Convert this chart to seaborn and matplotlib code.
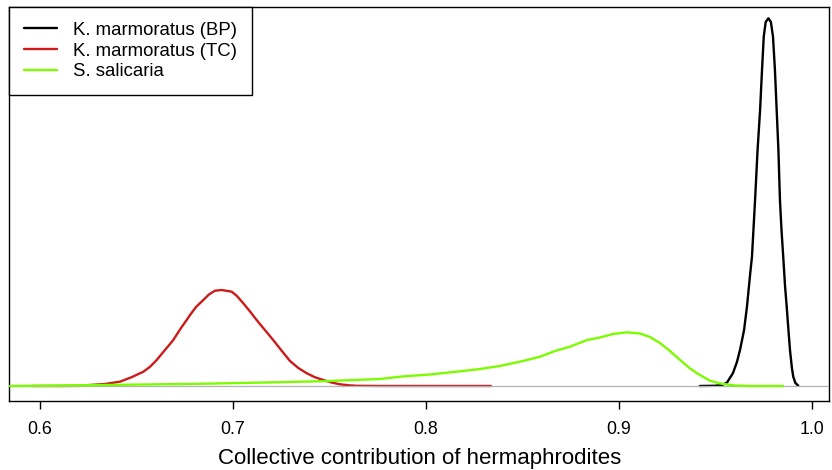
import matplotlib
matplotlib.use("Agg")
import matplotlib.pyplot as plt
import seaborn as sns
import pandas as pd

sns.set_theme(style="white")
plt.rcParams['font.family'] = ['Liberation Sans', 'DejaVu Sans']
plt.rcParams['text.color'] = 'black'
plt.rcParams['axes.labelcolor'] = 'black'
plt.rcParams['xtick.color'] = 'black'
plt.rcParams['lines.solid_joinstyle'] = 'round'

# Density curves (x = collective contribution, y = density)
bp_x = [0.9421, 0.9499, 0.9535, 0.9561, 0.9592, 0.9613, 0.9629, 0.9650, 0.9665, 0.9681,
        0.9691, 0.9707, 0.9720, 0.9733, 0.9743, 0.9752, 0.9762, 0.9776, 0.9789, 0.9800,
        0.9810, 0.9819, 0.9828, 0.9836, 0.9844, 0.9853, 0.9862, 0.9871, 0.9880, 0.9888,
        0.9898, 0.9905, 0.9916, 0.9931]
bp_y = [0.00, 0.04, 0.20, 0.67, 2.59, 4.89, 7.34, 11.41, 16.16, 22.62,
        26.35, 37.91, 48.10, 56.25, 64.40, 71.19, 74.18, 74.94, 74.18, 71.19,
        64.40, 56.25, 48.10, 37.91, 31.79, 26.35, 20.58, 16.16, 11.41, 7.34,
        3.67, 1.90, 0.61, 0.06]

tc_x = [0.5960, 0.6104, 0.6207, 0.6259, 0.6337, 0.6415, 0.6477, 0.6536, 0.6570, 0.6605,
        0.6648, 0.6691, 0.6731, 0.6757, 0.6778, 0.6809, 0.6847, 0.6876, 0.6907, 0.6942,
        0.6994, 0.7021, 0.7054, 0.7089, 0.7123, 0.7166, 0.7209, 0.7254, 0.7296, 0.7338,
        0.7383, 0.7426, 0.7469, 0.7512, 0.7555, 0.7600, 0.7642, 0.7763, 0.8338]
tc_y = [0.00, 0.00, 0.02, 0.20, 0.41, 0.88, 1.83, 2.91, 3.90, 5.30,
        7.34, 9.37, 11.82, 13.25, 14.47, 16.10, 17.53, 18.65, 19.42, 19.56,
        19.22, 18.34, 16.85, 15.18, 13.45, 11.41, 9.37, 7.13, 5.10, 3.70,
        2.59, 1.77, 1.22, 0.70, 0.35, 0.14, 0.04, 0.00, 0.00]

ss_x = [0.5845, 0.6104, 0.6415, 0.6829, 0.7244, 0.7503, 0.7763, 0.7879, 0.8022, 0.8193,
        0.8281, 0.8384, 0.8504, 0.8592, 0.8670, 0.8747, 0.8836, 0.8903, 0.8970, 0.9043,
        0.9110, 0.9162, 0.9214, 0.9266, 0.9318, 0.9370, 0.9406, 0.9473, 0.9525, 0.9603,
        0.9681, 0.9852]
ss_y = [0.00, 0.10, 0.24, 0.45, 0.77, 1.02, 1.43, 1.94, 2.34, 3.06,
        3.46, 4.08, 5.10, 5.97, 7.13, 8.01, 9.37, 9.88, 10.60, 10.94,
        10.70, 9.99, 8.76, 7.13, 5.30, 3.57, 2.59, 1.08, 0.51, 0.10,
        0.00, 0.00]

labels = ["K. marmoratus (BP)", "K. marmoratus (TC)", "S. salicaria"]
colors = ["black", "#CD1A1A", "#7CFC00"]
xticks = [0.6, 0.7, 0.8, 0.9, 1.0]
xtick_labels = ["0.6", "0.7", "0.8", "0.9", "1.0"]
xlabel = "Collective contribution of hermaphrodites"

df_bp = pd.DataFrame({"x": bp_x, "y": bp_y})
df_tc = pd.DataFrame({"x": tc_x, "y": tc_y})
df_ss = pd.DataFrame({"x": ss_x, "y": ss_y})

fig = plt.figure(figsize=(8.32, 4.70), dpi=100)
ax = fig.add_axes([0.0114, 0.1468, 0.9850, 0.8383])

lw = 1.7
sns.lineplot(data=df_tc, x="x", y="y", sort=False, estimator=None, color=colors[1],
             linewidth=lw, ax=ax, label=labels[1], zorder=2)
sns.lineplot(data=df_bp, x="x", y="y", sort=False, estimator=None, color=colors[0],
             linewidth=lw, ax=ax, label=labels[0], zorder=3)
ax.axhline(0, color="#B3B3B3", linewidth=0.9, zorder=4)
sns.lineplot(data=df_ss, x="x", y="y", sort=False, estimator=None, color=colors[2],
             linewidth=lw, ax=ax, label=labels[2], zorder=5)

ax.set_xlim(0.58419, 1.00903)
ax.set_ylim(-3.06, 77.24)
ax.set_xticks(xticks)
ax.set_xticklabels(xtick_labels)
ax.set_yticks([])
ax.set_ylabel("")
ax.set_xlabel(xlabel, fontsize=16, labelpad=7, color="black")
ax.tick_params(axis="x", which="both", bottom=True, length=5.5, width=1.0,
               color="black", labelsize=12.8, pad=9, labelcolor="black")
for s in ax.spines.values():
    s.set_visible(True)
    s.set_color("black")
    s.set_linewidth(1.0)

handles, labs = ax.get_legend_handles_labels()
order = [labs.index(l) for l in labels]
leg = ax.legend([handles[i] for i in order], [labs[i] for i in order],
                loc="upper left", bbox_to_anchor=(0, 1), borderaxespad=0,
                fontsize=13.4, frameon=True, fancybox=False, framealpha=1,
                edgecolor="black", handlelength=1.75, handletextpad=0.85,
                borderpad=0.8, labelspacing=0.2)
leg.get_frame().set_linewidth(1.0)
for t in leg.get_texts():
    t.set_color("black")

fig.savefig("out.png", dpi=100)
